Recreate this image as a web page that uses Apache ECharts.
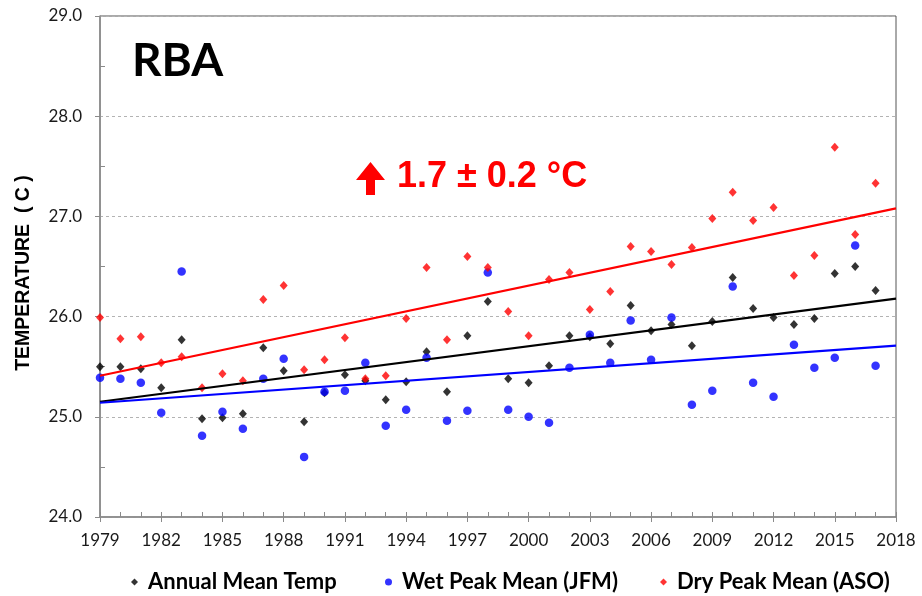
<!DOCTYPE html>
<html>
<head>
<meta charset="utf-8">
<title>RBA temperature</title>
<script src="https://cdn.jsdelivr.net/npm/echarts@6/dist/echarts.min.js"></script>
<style>
  html, body { margin: 0; padding: 0; background: #fff; }
  #chart { width: 922px; height: 596px; }
</style>
</head>
<body>
<div id="chart"></div>
<script>
// Years of record
const years = [1979, 1980, 1981, 1982, 1983, 1984, 1985, 1986, 1987, 1988,
               1989, 1990, 1991, 1992, 1993, 1994, 1995, 1996, 1997, 1998,
               1999, 2000, 2001, 2002, 2003, 2004, 2005, 2006, 2007, 2008,
               2009, 2010, 2011, 2012, 2013, 2014, 2015, 2016, 2017];

// Annual mean temperature (°C)
const annualMean = [25.50, 25.50, 25.48, 25.29, 25.77, 24.98, 24.99, 25.03, 25.69, 25.46,
                    24.95, 25.24, 25.42, 25.36, 25.17, 25.35, 25.65, 25.25, 25.81, 26.15,
                    25.38, 25.34, 25.51, 25.81, 25.80, 25.73, 26.11, 25.86, 25.92, 25.71,
                    25.95, 26.39, 26.08, 25.99, 25.92, 25.98, 26.43, 26.50, 26.26];

// Wet season peak mean, Jan-Feb-Mar (°C)
const wetPeak = [25.39, 25.38, 25.34, 25.04, 26.45, 24.81, 25.05, 24.88, 25.38, 25.58,
                 24.60, 25.25, 25.26, 25.54, 24.91, 25.07, 25.59, 24.96, 25.06, 26.44,
                 25.07, 25.00, 24.94, 25.49, 25.82, 25.54, 25.96, 25.57, 25.99, 25.12,
                 25.26, 26.30, 25.34, 25.20, 25.72, 25.49, 25.59, 26.71, 25.51];

// Dry season peak mean, Aug-Sep-Oct (°C)
const dryPeak = [25.99, 25.78, 25.80, 25.54, 25.60, 25.29, 25.43, 25.36, 26.17, 26.31,
                 25.47, 25.57, 25.79, 25.38, 25.41, 25.98, 26.49, 25.77, 26.60, 26.49,
                 26.05, 25.81, 26.37, 26.44, 26.07, 26.25, 26.70, 26.65, 26.52, 26.69,
                 26.98, 27.24, 26.96, 27.09, 26.41, 26.61, 27.69, 26.82, 27.33];

// Linear trend lines, values at the ends of the period
const trendYears = [1979, 2018];
const annualTrend = [25.15, 26.18];
const wetTrend = [25.14, 25.71];
const dryTrend = [25.41, 27.08];

// Axis ticks
const xLabelYears = [1979, 1982, 1985, 1988, 1991, 1994, 1997, 2000, 2003, 2006, 2009, 2012, 2015, 2018];
const xMinorYears = [];
for (let y = 1979; y <= 2018; y++) xMinorYears.push(y);
const yHalfTicks = [24.5, 25.5, 26.5, 27.5, 28.5];

const seriesNames = ['Annual Mean Temp', 'Wet Peak Mean (JFM)', 'Dry Peak Mean (ASO)'];
const legendIcons = ['diamond', 'circle', 'diamond'];
const trendLabel = '1.7 \u00b1 0.2 \u00b0C';

const pair = (xs, ys) => xs.map((x, i) => [x, ys[i]]);

const FONT = 'Lato, "Open Sans", "Liberation Sans", sans-serif';
const AXIS_GRAY = '#8a8a8a';

// One legend block per series so each entry sits at its own spot along the bottom
const legendLefts = [126, 380, 655];
const legends = seriesNames.map((name, i) => ({
  data: [{ name: name, icon: legendIcons[i] }],
  left: legendLefts[i], top: 566,
  itemWidth: 7, itemHeight: 7,
  textStyle: { fontFamily: FONT, fontWeight: 'bold', fontSize: 22, color: '#000',
               padding: [0, 0, 0, 5] }
}));

const chart = echarts.init(document.getElementById('chart'), null, { renderer: 'canvas' });

const option = {
  backgroundColor: '#ffffff',
  animation: false,
  textStyle: { fontFamily: FONT },
  grid: {
    left: 100, right: 26, top: 16, bottom: 79,
    show: true, borderColor: '#555555', borderWidth: 1
  },
  xAxis: [
    {
      type: 'value', min: 1979, max: 2018, interval: 3,
      axisLine: { show: true, onZero: false, lineStyle: { color: AXIS_GRAY, width: 1.5 } },
      axisTick: { show: true, inside: false, length: 5, customValues: xLabelYears,
                  lineStyle: { color: AXIS_GRAY } },
      axisLabel: { customValues: xLabelYears, margin: 15, color: '#1a1a1a', fontSize: 17,
                   fontFamily: FONT, formatter: v => String(v) },
      splitLine: { show: false }
    },
    {
      type: 'value', min: 1979, max: 2018, position: 'bottom', offset: 0,
      axisLine: { show: false, onZero: false },
      axisTick: { show: true, inside: true, length: 5, customValues: xMinorYears,
                  lineStyle: { color: AXIS_GRAY } },
      axisLabel: { show: false },
      splitLine: { show: false }
    }
  ],
  yAxis: [
    {
      type: 'value', min: 24, max: 29, interval: 1,
      axisLine: { show: true, onZero: false, lineStyle: { color: AXIS_GRAY, width: 1.5 } },
      axisTick: { show: true, inside: false, length: 5, lineStyle: { color: AXIS_GRAY } },
      axisLabel: { margin: 18, color: '#1a1a1a', fontSize: 17, fontFamily: FONT,
                   formatter: v => v.toFixed(1) },
      splitLine: { show: true, lineStyle: { color: '#b3b3b3', type: [3, 3], width: 1 } }
    },
    {
      type: 'value', min: 24, max: 29, position: 'left', offset: 0,
      axisLine: { show: false, onZero: false },
      axisTick: { show: true, inside: true, length: 5, customValues: yHalfTicks,
                  lineStyle: { color: AXIS_GRAY } },
      axisLabel: { show: false },
      splitLine: { show: false }
    }
  ],
  legend: legends,
  series: [
    {
      name: seriesNames[0], type: 'scatter', symbol: 'diamond', symbolSize: [8, 9],
      itemStyle: { color: '#000000' }, data: pair(years, annualMean), z: 3
    },
    {
      name: seriesNames[1], type: 'scatter', symbol: 'circle', symbolSize: 8.5,
      itemStyle: { color: '#0000ff' }, data: pair(years, wetPeak), z: 4
    },
    {
      name: seriesNames[2], type: 'scatter', symbol: 'diamond', symbolSize: [8, 9],
      itemStyle: { color: '#ff0000' }, data: pair(years, dryPeak), z: 5
    },
    {
      name: 'annual trend', type: 'line', showSymbol: false, silent: true, z: 6,
      lineStyle: { color: '#000000', width: 2.2 }, data: pair(trendYears, annualTrend)
    },
    {
      name: 'wet trend', type: 'line', showSymbol: false, silent: true, z: 6,
      lineStyle: { color: '#0000ff', width: 2.2 }, data: pair(trendYears, wetTrend)
    },
    {
      name: 'dry trend', type: 'line', showSymbol: false, silent: true, z: 6,
      lineStyle: { color: '#ff0000', width: 2.2 }, data: pair(trendYears, dryTrend)
    }
  ],
  graphic: [
    {
      type: 'text', left: 132, top: 38, z: 10,
      style: { text: 'RBA', fill: '#000', font: 'bold 46px ' + FONT }
    },
    {
      type: 'text', x: 24, y: 273, rotation: Math.PI / 2, z: 10,
      style: { text: 'TEMPERATURE  ( C )', fill: '#000', align: 'center', verticalAlign: 'middle',
               font: 'bold 19.5px "Liberation Sans", Arial, sans-serif' }
    },
    {
      type: 'polygon', z: 10,
      shape: { points: [[370.5, 162], [385, 180], [375, 180], [375, 195], [366, 195], [366, 180], [356, 180]] },
      style: { fill: '#ff0000' }
    },
    {
      type: 'text', x: 397, y: 177, z: 10,
      style: { text: trendLabel, fill: '#ff0000', verticalAlign: 'middle',
               font: 'bold 36px "Liberation Sans", Arial, sans-serif' }
    }
  ]
};

chart.setOption(option);
</script>
</body>
</html>
